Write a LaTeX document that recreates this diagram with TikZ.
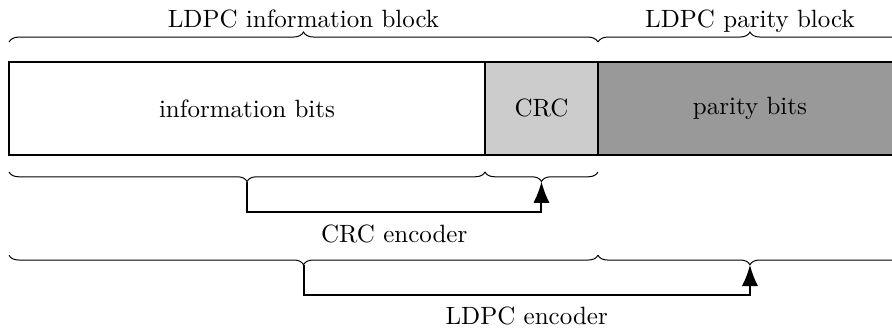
\documentclass[tikz,border=0pt]{standalone}
\usetikzlibrary{positioning,decorations.pathreplacing,arrows.meta}

\begin{document}
\begin{tikzpicture}[
    blk/.style={draw, thick, minimum height=1.307cm, outer sep=0pt, inner sep=0pt},
    brc/.style={decorate, decoration={brace, amplitude=4pt}},
    brcdown/.style={decorate, decoration={brace, amplitude=3.8pt, mirror}},
    lbl/.style={midway, anchor=base, yshift=5.8pt},
    enc/.style={thick, -{Latex[length=8.5pt,width=6.5pt]}}
  ]
  \useasboundingbox (0,0) rectangle (12.538,4.638);

  % the code word
  \node[blk, anchor=north west, minimum width=6.69cm] (info) at (0.127,3.767) {information bits};
  \node[blk, fill=black!20, minimum width=1.588cm, right=0pt of info] (crc) {CRC};
  \node[blk, fill=black!40, minimum width=4.273cm, right=0pt of crc] (parity) {parity bits};

  % blocks above
  \draw[brc] ([yshift=0.28cm]info.north west) -- ([yshift=0.28cm]crc.north east)
    node[lbl] {LDPC information block};
  \draw[brc] ([yshift=0.28cm]parity.north west) -- ([yshift=0.28cm]parity.north east)
    node[lbl] {LDPC parity block};

  % CRC encoder
  \draw[brcdown] ([yshift=-0.24cm]info.south west) -- ([yshift=-0.24cm]info.south east)
    coordinate[midway, yshift=-3.8pt] (crcin);
  \draw[brcdown] ([yshift=-0.24cm]crc.south west) -- ([yshift=-0.24cm]crc.south east)
    coordinate[midway, yshift=-3.8pt] (crcout);
  \draw[enc] (crcin) -- ++(0,-0.43) -| (crcout)
    node[pos=0.25, below=1.5pt] {CRC encoder};

  % LDPC encoder
  \draw[brcdown] ([yshift=-1.41cm]info.south west) -- ([yshift=-1.41cm]crc.south east)
    coordinate[midway, yshift=-3.8pt] (ldpcin);
  \draw[brcdown] ([yshift=-1.41cm]parity.south west) -- ([yshift=-1.41cm]parity.south east)
    coordinate[midway, yshift=-3.8pt] (ldpcout);
  \draw[enc] (ldpcin) -- ++(0,-0.43) -| (ldpcout)
    node[pos=0.25, below=1pt] {LDPC encoder};
\end{tikzpicture}
\end{document}
